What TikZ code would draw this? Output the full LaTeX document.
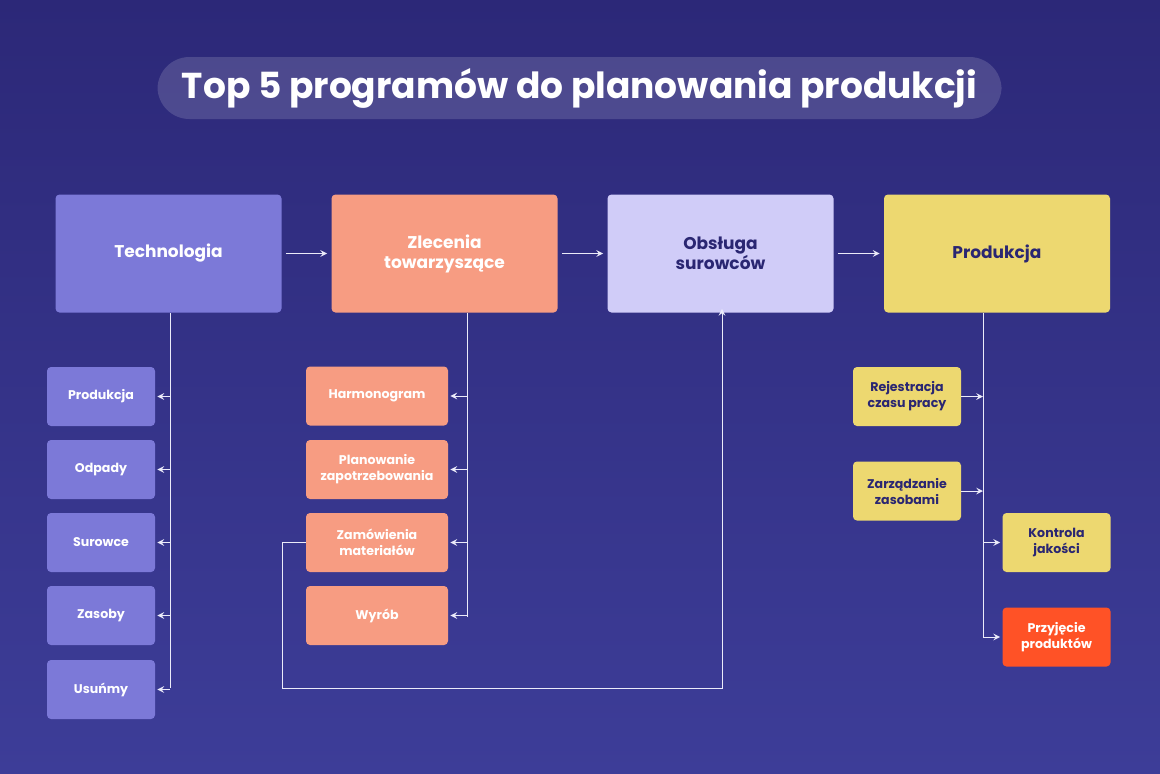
\documentclass[tikz,border=0pt]{standalone}
\usepackage{fontspec}
\setmainfont{Poppins}
\usetikzlibrary{positioning}
\definecolor{bgtop}{HTML}{2C2878}
\definecolor{bgbot}{HTML}{3D3D98}
\definecolor{violet}{HTML}{7C79D8}
\definecolor{salmon}{HTML}{F79C82}
\definecolor{lilac}{HTML}{D0CCF8}
\definecolor{sand}{HTML}{EDD870}
\definecolor{fire}{HTML}{FF5226}
\definecolor{ink}{HTML}{2A2672}

\begin{document}
\begin{tikzpicture}[x=0.5pt,y=-0.5pt,
    big/.style={rounded corners=2pt,minimum width=113pt,minimum height=59pt,
      align=center,font=\fontsize{8.5}{10}\selectfont\bfseries,text=white},
    small/.style={rounded corners=2pt,minimum height=29.5pt,
      align=center,font=\fontsize{6.3}{8}\selectfont\bfseries,text=white},
    line/.style={white!85!violet,line width=0.5pt},
    arr/.style={line,->,>=stealth}]

    % background and title
    \shade[top color=bgtop,bottom color=bgbot] (0,0) rectangle (1160,773);
    \node[fill=white,fill opacity=0.15,text opacity=1,rounded corners=16pt,
      minimum width=422pt,minimum height=31pt,text=white,
      font=\fontsize{18}{21}\selectfont\bfseries] (title) at (579.5,88)
      {Top 5 programów do planowania produkcji};

    % main row
    \node[big,fill=violet] (tech) at (168.5,253.5) {Technologia};
    \node[big,fill=salmon] (zlec) at (444.5,253.5) {Zlecenia\\towarzyszące};
    \node[big,fill=lilac,text=ink] (obs) at (720.5,253.5) {Obsługa\\surowców};
    \node[big,fill=sand,text=ink] (prod) at (997,253.5) {Produkcja};
    \draw[arr] ([xshift=2pt]tech.east) -- ([xshift=-2pt]zlec.west);
    \draw[arr] ([xshift=2pt]zlec.east) -- ([xshift=-2pt]obs.west);
    \draw[arr] ([xshift=2pt]obs.east) -- ([xshift=-2pt]prod.west);

    % technologia column
    \foreach \name/\txt/\y in {t1/Produkcja/396.5,t2/Odpady/469.5,
        t3/Surowce/542.5,t4/Zasoby/615.5,t5/Usuńmy/689.5}
      \node[small,fill=violet,minimum width=54pt] (\name) at (101,\y) {\txt};
    \coordinate (tdown) at (170,688);
    \draw[line] (tech.south -| tdown) -- (tdown);
    \foreach \name in {t1,t2,t3,t4,t5}
      \draw[arr] (\name.east -| tdown) -- ([xshift=1pt]\name.east);

    % zlecenia column
    \node[small,fill=salmon,minimum width=71pt] (z1) at (377,396) {Harmonogram};
    \node[small,fill=salmon,minimum width=71pt] (z2) at (377,469.5) {Planowanie\\zapotrzebowania};
    \node[small,fill=salmon,minimum width=71pt] (z3) at (377,542.5) {Zamówienia\\materiałów};
    \node[small,fill=salmon,minimum width=71pt] (z4) at (377,615.5) {Wyrób};
    \coordinate (zdown) at (467,617);
    \draw[line] (zlec.south -| zdown) -- (zdown);
    \foreach \name in {z1,z2,z3,z4}
      \draw[arr] (\name.east -| zdown) -- ([xshift=1pt]\name.east);

    % feedback to obsluga
    \coordinate (fb1) at (282,688);
    \coordinate (fb2) at (722,688);
    \draw[arr] (z3.west) -| (fb1) -- (fb2) -- ([yshift=2pt]fb2 |- obs.south);

    % produkcja column
    \node[small,fill=sand,text=ink,minimum width=54pt] (p1) at (907,396.5) {Rejestracja\\czasu pracy};
    \node[small,fill=sand,text=ink,minimum width=54pt] (p2) at (907,491) {Zarządzanie\\zasobami};
    \node[small,fill=sand,text=ink,minimum width=54pt] (p3) at (1056.5,542.5) {Kontrola\\jakości};
    \node[small,fill=fire,minimum width=54pt] (p4) at (1056.5,637) {Przyjęcie\\produktów};
    \coordinate (pdown) at (983,637);
    \draw[line] (prod.south -| pdown) -- (pdown);
    \draw[arr] (p1.east) -- (p1.east -| pdown);
    \draw[arr] (p2.east) -- (p2.east -| pdown);
    \draw[arr] (p3.west -| pdown) -- ([xshift=-1pt]p3.west);
    \draw[arr] (p4.west -| pdown) -- ([xshift=-1pt]p4.west);
\end{tikzpicture}
\end{document}
